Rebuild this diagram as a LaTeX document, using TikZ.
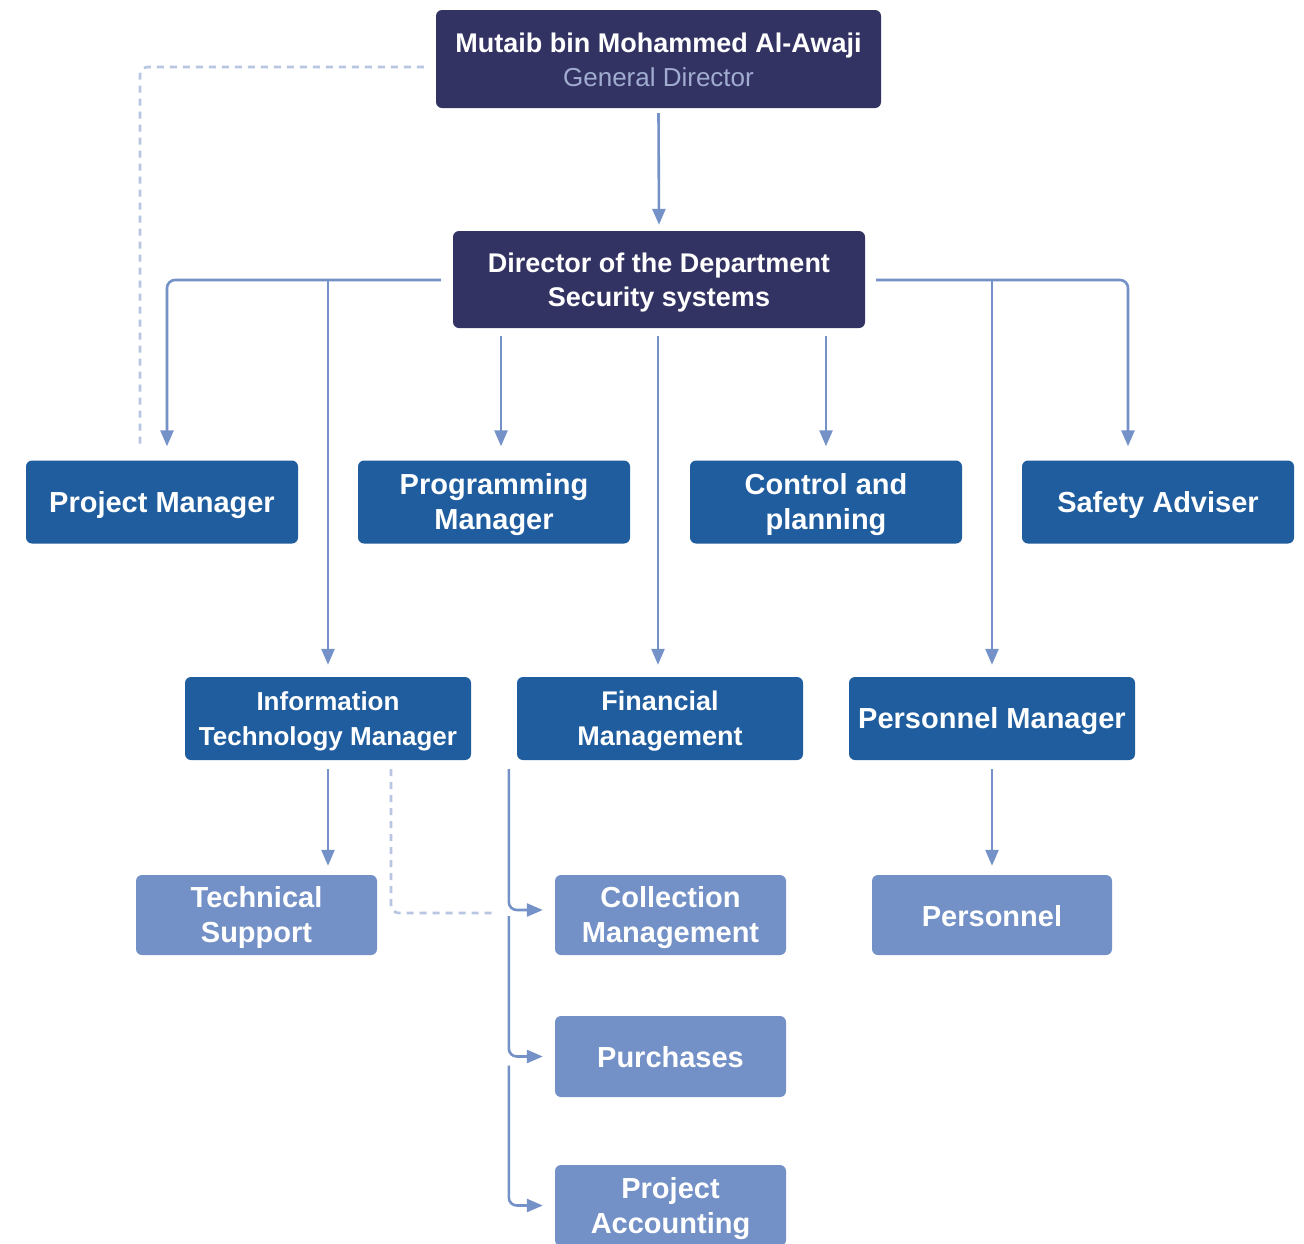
\documentclass[tikz,border=0pt]{standalone}
\usepackage{fontspec}
\setmainfont{Liberation Sans}
\usetikzlibrary{arrows.meta,calc}
\definecolor{navy}{RGB}{51,51,99}
\definecolor{midblue}{RGB}{31,93,158}
\definecolor{lightblue}{RGB}{115,145,199}
\definecolor{linec}{RGB}{116,146,200}
\definecolor{dashc}{RGB}{185,198,226}
\definecolor{subt}{RGB}{160,172,208}
\newcommand\mystrut{\rule[-.17em]{0pt}{1.1em}}
\begin{document}
\begin{tikzpicture}[x=1pt,y=-1pt,
  box/.style={rectangle, rounded corners=6pt, inner sep=0pt, align=center, text=white, font=\fontsize{29}{35}\selectfont\bfseries},
  topbox/.style={box, fill=navy, font=\fontsize{27}{34}\selectfont\bfseries},
  midbox/.style={box, fill=midblue, minimum height=83pt},
  lowbox/.style={box, fill=lightblue, minimum width=231pt, minimum height=81pt},
  arr/.style={draw=linec, line width=2.6pt, -{Triangle[width=13pt,length=16pt]}, rounded corners=8pt},
  dsh/.style={draw=dashc, line width=2.6pt, dash pattern=on 7pt off 6pt, rounded corners=8pt}
]
\clip (0,0) rectangle (1304,1243);
\fill[white] (0,0) rectangle (1304,1243);

% nodes
\node[topbox, minimum width=445pt, minimum height=98pt] (top) at (658.5,59)
  {\mystrut Mutaib bin Mohammed Al-Awaji\\{\fontsize{26}{34}\selectfont\mdseries\color{subt}\mystrut General Director}};
\node[topbox, minimum width=412pt, minimum height=97pt] (dir) at (659,279.5)
  {\mystrut Director of the Department\\\mystrut Security systems};

\node[midbox, minimum width=272pt] (pm) at (162,502) {\mystrut Project Manager};
\node[midbox, minimum width=272pt] (prog) at (494,502) {\mystrut Programming\\\mystrut Manager};
\node[midbox, minimum width=272pt] (ctl) at (826,502) {\mystrut Control and\\\mystrut planning};
\node[midbox, minimum width=272pt] (sa) at (1158,502) {\mystrut Safety Adviser};

\node[midbox, minimum width=286pt, font=\fontsize{26}{35}\selectfont\bfseries] (it) at (328,718.5) {\mystrut Information\\\mystrut Technology Manager};
\node[midbox, minimum width=286pt, font=\fontsize{27}{35}\selectfont\bfseries] (fin) at (660,718.5) {\mystrut Financial\\\mystrut Management};
\node[midbox, minimum width=286pt] (perm) at (992,718.5) {\mystrut Personnel Manager};

\node[lowbox, minimum width=241pt, minimum height=80pt] (tech) at (256.5,915) {\mystrut Technical\\\mystrut Support};
\node[lowbox, minimum height=80pt] (coll) at (670.5,915) {\mystrut Collection\\\mystrut Management};
\node[lowbox, minimum width=240pt, minimum height=80pt] (pers) at (992,915) {\mystrut Personnel};
\node[lowbox] (pur) at (670.5,1056.5) {\mystrut Purchases};
\node[lowbox] (pa) at (670.5,1205.5) {\mystrut Project\\\mystrut Accounting};

% dashed connectors
\draw[dsh] ($(top.west)+(-12,8)$) -| ($(pm.north)+(-22,-14)$);
\draw[dsh] ($(it.south)+(63,9)$) |- ($(coll.west)+(-58,-2)$);

% solid connectors
\draw[arr] ($(top.south)+(0,5)$) -- ($(dir.north)+(0,-6)$);
\draw[arr] ($(dir.west)+(-12,0.5)$) -| ($(pm.north)+(5,-14)$);
\draw[arr] ($(it.north |- dir.west)+(0,0.5)$) -- ($(it.north)+(0,-12)$);
\draw[arr] ($(dir.east)+(11,0.5)$) -| ($(sa.north)+(-30,-14)$);
\draw[arr] ($(perm.north |- dir.east)+(0,0.5)$) -- ($(perm.north)+(0,-12)$);
\draw[arr] ($(prog.north |- dir.south)+(7,8)$) -- ($(prog.north)+(7,-14)$);
\draw[arr] ($(fin.north |- dir.south)+(-2,8)$) -- ($(fin.north)+(-2,-12)$);
\draw[arr] ($(ctl.north |- dir.south)+(0,8)$) -- ($(ctl.north)+(0,-14)$);

\draw[arr] ($(it.south)+(0,9)$) -- ($(it.south |- tech.north)+(0,-9)$);
\draw[arr] ($(perm.south)+(0,9)$) -- ($(pers.north)+(0,-9)$);

\draw[arr] ($(fin.south west)+(-8,9)$) |- ($(coll.west)+(-12,-5)$);
\draw[arr] ($(fin.south west |- coll.west)+(-8,1)$) |- ($(pur.west)+(-12,0)$);
\draw[arr] ($(fin.south west |- pur.west)+(-8,9)$) |- ($(pa.west)+(-12,0)$);
\end{tikzpicture}
\end{document}
